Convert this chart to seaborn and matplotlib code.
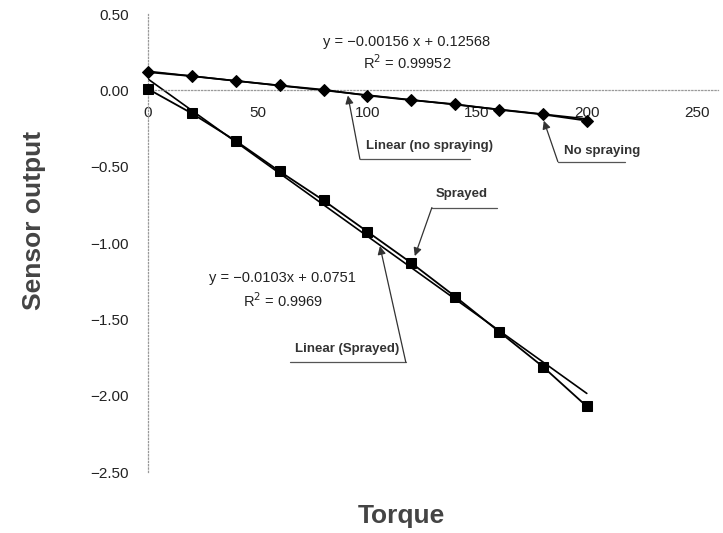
import matplotlib
matplotlib.use("Agg")
import matplotlib.pyplot as plt
import matplotlib.ticker as mticker
import seaborn as sns
import numpy as np
import pandas as pd

# values
torque = [0, 20, 40, 60, 80, 100, 120, 140, 160, 180, 200]
no_spraying = [0.12, 0.094, 0.063, 0.033, 0.005, -0.033, -0.063, -0.090,
               -0.126, -0.157, -0.198]
sprayed = [0.01, -0.15, -0.33, -0.53, -0.72, -0.925, -1.13, -1.35,
           -1.58, -1.81, -2.07]

# trend lines as printed on the chart: slope, intercept
fit_no_spraying = (-0.00156, 0.12568)
fit_sprayed = (-0.0103, 0.0751)
fit_range = [0, 200]

x_ticks = [0, 50, 100, 150, 200, 250]
y_ticks = [0.5, 0.0, -0.5, -1.0, -1.5, -2.0, -2.5]

sns.set_style("white")
plt.rcParams['font.family'] = ['Liberation Sans', 'DejaVu Sans']

df = pd.DataFrame({'torque': torque, 'no_spraying': no_spraying,
                   'sprayed': sprayed})
fit_x = np.array(fit_range)
df_fit = pd.DataFrame({
    'torque': fit_x,
    'no_spraying': fit_no_spraying[0] * fit_x + fit_no_spraying[1],
    'sprayed': fit_sprayed[0] * fit_x + fit_sprayed[1],
})

fig = plt.figure(figsize=(7.23, 5.33), dpi=100)
ax = fig.add_axes([0.2047, 0.1144, 0.789, 0.859])

# trend lines
sns.lineplot(data=df_fit, x='torque', y='no_spraying', color='black',
             lw=1.2, ax=ax)
sns.lineplot(data=df_fit, x='torque', y='sprayed', color='black',
             lw=1.2, ax=ax)
# measured series
sns.lineplot(data=df, x='torque', y='no_spraying', color='black', lw=1.3,
             marker='D', markersize=6, markeredgecolor='black',
             clip_on=False, zorder=5, ax=ax)
sns.lineplot(data=df, x='torque', y='sprayed', color='black', lw=1.3,
             marker='s', markersize=7, markeredgecolor='black',
             clip_on=False, zorder=5, ax=ax)

ax.set_xlim(0, 260)
ax.set_ylim(-2.5, 0.5)
ax.set_xticks(x_ticks)
ax.set_yticks(y_ticks)
ax.yaxis.set_major_formatter(
    mticker.FuncFormatter(lambda v, p: f"{v:.2f}".replace('-', '\u2212')))

for s in ['top', 'right']:
    ax.spines[s].set_visible(False)
ax.spines['bottom'].set_position(('data', 0))
for s in ['left', 'bottom']:
    ax.spines[s].set_linestyle(':')
    ax.spines[s].set_color('#999999')
    ax.spines[s].set_linewidth(0.9)

ax.tick_params(axis='x', length=0, pad=11, labelsize=11, colors='#222222')
ax.tick_params(axis='y', length=0, pad=14, labelsize=11, colors='#222222')

ax.set_xlabel('')
ax.set_ylabel('')
fig.text(0.555, 0.032, 'Torque', fontsize=19, fontweight='bold',
         color='#444444', ha='center', va='center')
fig.text(0.047, 0.587, 'Sensor output', fontsize=19, fontweight='bold',
         color='#444444', ha='center', va='center', rotation=90)

# equations
eq_kw = dict(fontsize=10.5, color='#222222', ha='center', va='center')
ax.text(118, 0.32, 'y = \u22120.00156 x + 0.12568', **eq_kw)
ax.text(118, 0.185, 'R$^2$ = 0.99952', **eq_kw)
ax.text(61.5, -1.23, 'y = \u22120.0103x + 0.0751', **eq_kw)
ax.text(61.5, -1.38, 'R$^2$ = 0.9969', **eq_kw)


def callout(label, text_xy, tip, corner, line_end):
    ax.text(text_xy[0], text_xy[1], label, fontsize=9.5, fontweight='bold',
            color='#333333', ha='center', va='center')
    ax.plot([corner[0], line_end[0]], [corner[1], line_end[1]],
            color='#555555', lw=0.9)
    ax.annotate('', xy=tip, xytext=corner,
                arrowprops=dict(arrowstyle='-|>', color='#333333', lw=0.9,
                                mutation_scale=12, shrinkA=0, shrinkB=0))


callout('Linear (no spraying)', (128.5, -0.366), (91.1, -0.033),
        (96.6, -0.45), (146.7, -0.45))
callout('No spraying', (206.8, -0.399), (180.4, -0.198),
        (186.8, -0.466), (217.3, -0.466))
callout('Sprayed', (143, -0.675), (121.6, -1.085),
        (129.4, -0.767), (159, -0.767))
callout('Linear (Sprayed)', (90.7, -1.695), (105.7, -1.02),
        (117.5, -1.78), (64.7, -1.78))

fig.savefig('out.png', dpi=100)
